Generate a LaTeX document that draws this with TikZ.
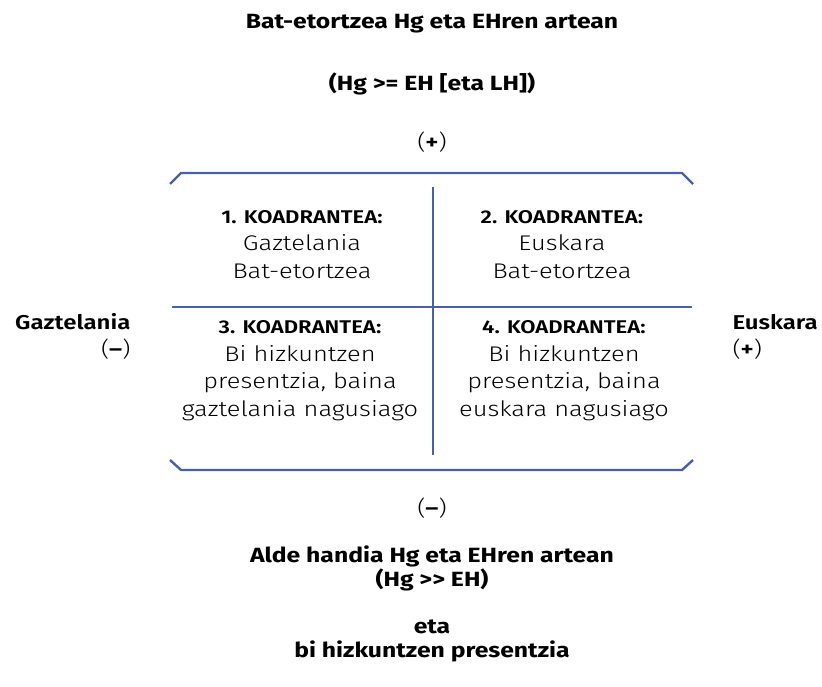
\documentclass[tikz,border=0pt]{standalone}
\usepackage{fontspec}
\setmainfont[FakeStretch=1.2]{Fira Sans}
\newfontfamily\lightfont[FakeStretch=1.2]{Fira Sans Light}
\usetikzlibrary{positioning}
\definecolor{qdBlue}{RGB}{72,96,170}

\begin{document}
\begin{tikzpicture}[x=1pt, y=-1pt,
    head/.style={font=\fontsize{20.6}{24}\selectfont\bfseries, align=center},
    quad/.style={font=\fontsize{21.2}{27.5}\selectfont\lightfont, align=center},
    sign/.style={font=\fontsize{21}{27}\selectfont\lightfont},
    axis/.style={draw=qdBlue, line width=2.4pt}
  ]
  \newcommand{\qtitle}[1]{{\fontsize{18.4}{20}\selectfont\bfseries #1}}
  \newcommand{\sidetitle}[1]{{\fontsize{20}{27}\selectfont\bfseries #1}}
  \useasboundingbox (0,0) rectangle (822,687);

  % top and bottom texts
  \node[head] (topA) at (432,24) {Bat-etortzea Hg eta EHren artean};
  \node[head] (topB) at (432,84) {(Hg >= EH [eta LH])};
  \node[sign] (plusT) at (432,142) {(\textbf{+})};
  \node[sign] (minB) at (432,508) {(\textbf{–})};
  \node[head] (botA) at (432,568) {Alde handia Hg eta EHren artean\\(Hg >\kern0pt> EH)};
  \node[head] (botB) at (432,640.5) {eta\\bi hizkuntzen presentzia};

  % side labels
  \node[sign, align=right, anchor=east] (left) at (134,336.5) {\sidetitle{Gaztelania}\\(\textbf{–})};
  \node[sign, align=left, anchor=west] (right) at (729,336.5) {\sidetitle{Euskara}\\(\textbf{+})};

  % quadrants
  \node[quad] (q1) at (302,244.5) {\qtitle{1. KOADRANTEA:}\\Gaztelania\\Bat-etortzea};
  \node[quad] (q2) at (562,244.5) {\qtitle{2. KOADRANTEA:}\\Euskara\\Bat-etortzea};
  \node[quad] (q3) at (300,370.5) {\qtitle{3. KOADRANTEA:}\\Bi hizkuntzen\\presentzia, baina\\gaztelania nagusiago};
  \node[quad] (q4) at (564,370.5) {\qtitle{4. KOADRANTEA:}\\Bi hizkuntzen\\presentzia, baina\\euskara nagusiago};

  % axes and brackets
  \coordinate (vTop) at (433,187);
  \coordinate (vBot) at (433,455);
  \coordinate (hL) at (172,307);
  \coordinate (hR) at (692,307);
  \draw[axis] (vTop) -- (vBot);
  \draw[axis] (hL) -- (hR);
  \draw[axis] (170,184) -- (181,173) -- (682,173) -- (693,184);
  \draw[axis] (170,460) -- (181,470) -- (682,470) -- (693,460);
\end{tikzpicture}
\end{document}
